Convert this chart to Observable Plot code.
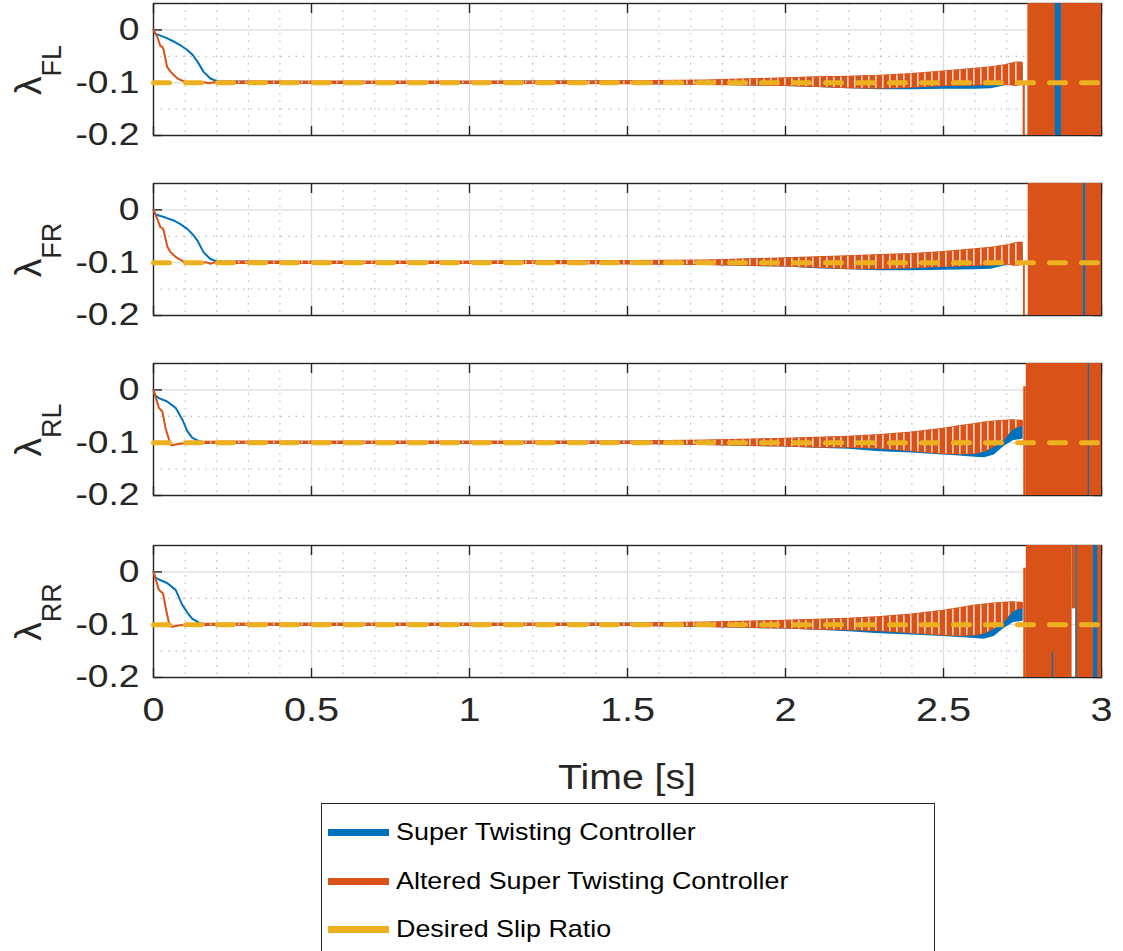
<!DOCTYPE html>
<html><head><meta charset="utf-8">
<script src="https://cdn.jsdelivr.net/npm/d3@7"></script>
<script src="https://cdn.jsdelivr.net/npm/@observablehq/plot@0.6"></script>
<style>
body{margin:0;background:#fff;overflow:hidden;}
#chart{position:relative;width:1123px;height:951px;font-family:"Liberation Sans",Arial,sans-serif;overflow:hidden;}
.panel{position:absolute;left:0;}
#legend{position:absolute;left:321px;top:803px;width:614px;height:160px;border:1.3px solid #262626;background:#fff;box-sizing:border-box;}
.entry{position:absolute;left:6px;height:30px;display:flex;align-items:center;}
.swatch{width:61px;height:7px;margin-right:7px;flex:none;}
.lab{font-size:24px;color:#000;transform:scaleX(1.12);transform-origin:left center;white-space:nowrap;}
</style></head><body><div id="chart"></div><script>
// ---------- axes / labels ----------
const xTicks = [0, 0.5, 1, 1.5, 2, 2.5, 3];
const xTickLabels = ["0", "0.5", "1", "1.5", "2", "2.5", "3"];
const xMinor = [0.1,0.2,0.3,0.4,0.6,0.7,0.8,0.9,1.1,1.2,1.3,1.4,1.6,1.7,1.8,1.9,2.1,2.2,2.3,2.4,2.6,2.7,2.8,2.9];
const yTicks = [-0.2, -0.1, 0];
const yTickLabels = ["-0.2", "-0.1", "0"];
const yMinor = [-0.15, -0.05];
const wheels = ["FL", "FR", "RL", "RR"];
const seriesNames = ["Super Twisting Controller", "Altered Super Twisting Controller", "Desired Slip Ratio"];
const seriesColors = ["#0072BD", "#D95319", "#EDB120"];
const xLabel = "Time [s]";

// ---------- desired slip ratio ----------
const desiredT = [0, 3];
const desiredSlip = [-0.1, -0.1];

// ---------- start-up transients (time, slip) ----------
const stT_FL = [0, 0.005, 0.016, 0.04, 0.064, 0.085, 0.107, 0.125, 0.139, 0.158, 0.18, 0.2, 0.21];
const stV_FL = [0, -0.007, -0.0095, -0.015, -0.022, -0.029, -0.038, -0.048, -0.060, -0.079, -0.092, -0.097, -0.099];
const astT_FL = [0, 0.012, 0.022, 0.028, 0.032, 0.043, 0.054, 0.065, 0.076, 0.086, 0.1, 0.115, 0.13, 0.145, 0.16, 0.175, 0.19, 0.205];
const astV_FL = [0, -0.013, -0.031, -0.032, -0.038, -0.070, -0.079, -0.086, -0.092, -0.095, -0.098, -0.101, -0.099, -0.102, -0.099, -0.101, -0.099, -0.1];

const stT_FR = [0, 0.005, 0.017, 0.04, 0.064, 0.085, 0.107, 0.125, 0.139, 0.158, 0.18, 0.2, 0.21];
const stV_FR = [0, -0.008, -0.0107, -0.015, -0.020, -0.027, -0.036, -0.047, -0.058, -0.080, -0.093, -0.0975, -0.099];
const astT_FR = [0, 0.012, 0.022, 0.028, 0.032, 0.044, 0.054, 0.07, 0.092, 0.105, 0.12, 0.135, 0.15, 0.165, 0.18, 0.195, 0.205];
const astV_FR = [0, -0.017, -0.033, -0.034, -0.039, -0.070, -0.080, -0.089, -0.097, -0.1, -0.102, -0.099, -0.101, -0.099, -0.102, -0.099, -0.1];

const stT_RL = [0, 0.005, 0.017, 0.043, 0.07, 0.091, 0.107, 0.123, 0.144, 0.16, 0.175];
const stV_RL = [0, -0.01, -0.0156, -0.022, -0.034, -0.056, -0.078, -0.091, -0.097, -0.099, -0.1];
const astT_RL = [0, 0.017, 0.028, 0.038, 0.049, 0.056, 0.076, 0.107, 0.13, 0.15, 0.17];
const astV_RL = [0, -0.034, -0.041, -0.072, -0.094, -0.105, -0.103, -0.1, -0.101, -0.099, -0.1];

const stT_RR = [0, 0.005, 0.017, 0.043, 0.07, 0.091, 0.107, 0.123, 0.144, 0.16, 0.175];
const stV_RR = [0, -0.01, -0.0144, -0.021, -0.034, -0.0625, -0.077, -0.089, -0.096, -0.099, -0.1];
const astT_RR = [0, 0.017, 0.030, 0.040, 0.051, 0.058, 0.085, 0.107, 0.13, 0.15, 0.17];
const astV_RR = [0, -0.034, -0.041, -0.072, -0.102, -0.104, -0.101, -0.1, -0.101, -0.099, -0.1];

// ---------- chattering envelopes (time, upper, lower) ----------
const envT_FL = [0.2, 0.5, 1.0, 1.5, 1.75, 2.0, 2.1, 2.2, 2.3, 2.4, 2.5, 2.6, 2.65, 2.7, 2.73, 2.75];
const stHi_FL = [-0.098, -0.099, -0.099, -0.098, -0.097, -0.094, -0.092, -0.090, -0.088, -0.086, -0.082, -0.078, -0.076, -0.072, -0.068, -0.070];
const stLo_FL = [-0.101, -0.101, -0.101, -0.102, -0.103, -0.106, -0.108, -0.110, -0.112, -0.112, -0.111, -0.111, -0.110, -0.104, -0.098, -0.095];
const astHi_FL = [-0.098, -0.098, -0.098, -0.0975, -0.096, -0.092, -0.090, -0.089, -0.087, -0.084, -0.079, -0.074, -0.071, -0.067, -0.062, -0.062];
const astLo_FL = [-0.102, -0.102, -0.102, -0.1025, -0.104, -0.106, -0.108, -0.110, -0.111, -0.109, -0.106, -0.105, -0.104, -0.104, -0.106, -0.104];

const envT_FR = [0.2, 0.5, 1.0, 1.5, 1.75, 2.0, 2.1, 2.2, 2.3, 2.4, 2.5, 2.6, 2.65, 2.7, 2.73, 2.75];
const stHi_FR = [-0.098, -0.099, -0.099, -0.098, -0.097, -0.093, -0.091, -0.089, -0.087, -0.085, -0.082, -0.078, -0.075, -0.070, -0.066, -0.068];
const stLo_FR = [-0.101, -0.101, -0.101, -0.102, -0.104, -0.107, -0.110, -0.112, -0.114, -0.114, -0.113, -0.112, -0.111, -0.104, -0.096, -0.095];
const astHi_FR = [-0.098, -0.098, -0.098, -0.097, -0.096, -0.092, -0.090, -0.088, -0.086, -0.084, -0.080, -0.075, -0.072, -0.068, -0.063, -0.062];
const astLo_FR = [-0.102, -0.102, -0.102, -0.103, -0.104, -0.107, -0.109, -0.112, -0.112, -0.110, -0.108, -0.106, -0.105, -0.103, -0.106, -0.104];

const envT_RL = [0.15, 0.5, 1.0, 1.5, 1.75, 2.0, 2.1, 2.2, 2.3, 2.4, 2.5, 2.55, 2.6, 2.63, 2.66, 2.69, 2.72, 2.75];
const stHi_RL = [-0.099, -0.099, -0.099, -0.0985, -0.097, -0.094, -0.092, -0.090, -0.087, -0.084, -0.078, -0.072, -0.067, -0.064, -0.062, -0.060, -0.059, -0.060];
const stLo_RL = [-0.101, -0.101, -0.101, -0.1015, -0.104, -0.107, -0.109, -0.111, -0.116, -0.118, -0.122, -0.124, -0.126, -0.127, -0.122, -0.106, -0.095, -0.092];
const astHi_RL = [-0.0985, -0.098, -0.098, -0.098, -0.096, -0.093, -0.091, -0.089, -0.086, -0.081, -0.074, -0.069, -0.065, -0.062, -0.060, -0.059, -0.058, -0.059];
const astLo_RL = [-0.1015, -0.102, -0.102, -0.102, -0.104, -0.107, -0.109, -0.109, -0.111, -0.116, -0.121, -0.122, -0.121, -0.117, -0.108, -0.096, -0.075, -0.068];

const envT_RR = [0.15, 0.5, 1.0, 1.5, 1.75, 2.0, 2.1, 2.2, 2.3, 2.4, 2.5, 2.55, 2.6, 2.63, 2.66, 2.69, 2.72, 2.75];
const stHi_RR = [-0.099, -0.099, -0.099, -0.0985, -0.097, -0.094, -0.092, -0.090, -0.087, -0.084, -0.078, -0.072, -0.067, -0.064, -0.062, -0.060, -0.059, -0.060];
const stLo_RR = [-0.101, -0.101, -0.101, -0.1015, -0.104, -0.107, -0.109, -0.112, -0.116, -0.118, -0.121, -0.123, -0.125, -0.126, -0.121, -0.106, -0.095, -0.092];
const astHi_RR = [-0.0985, -0.098, -0.098, -0.098, -0.096, -0.093, -0.091, -0.089, -0.086, -0.081, -0.074, -0.069, -0.064, -0.062, -0.060, -0.059, -0.058, -0.059];
const astLo_RR = [-0.1015, -0.102, -0.102, -0.102, -0.104, -0.107, -0.109, -0.110, -0.112, -0.116, -0.120, -0.121, -0.120, -0.117, -0.108, -0.096, -0.075, -0.068];

// ---------- divergence after ~2.75 s: [t start, t end, slip low, slip high, series] ----------
const burst_FL = [[2.752, 2.759, -0.2, -0.1, "AST"], [2.767, 3, -0.2, 0.05, "AST"], [2.854, 2.873, -0.2, 0.05, "ST"]];
const burst_FR = [[2.753, 2.759, -0.2, -0.1, "AST"], [2.768, 3, -0.2, 0.05, "AST"], [2.943, 2.950, -0.2, 0.05, "ST"]];
const burst_RL = [[2.754, 2.762, -0.2, 0.006, "AST"], [2.762, 3, -0.2, 0.05, "AST"], [2.958, 2.962, -0.2, 0.05, "ST"]];
const burst_RR = [[2.754, 2.762, -0.2, 0.007, "AST"], [2.762, 2.907, -0.2, 0.05, "AST"], [2.907, 2.919, -0.07, 0.05, "AST"], [2.919, 3, -0.2, 0.05, "AST"],
                  [2.844, 2.848, -0.2, -0.152, "ST"], [2.919, 2.923, -0.2, 0.05, "ST"], [2.975, 2.988, -0.2, 0.05, "ST"]];

const panelData = [
  {st: [stT_FL, stV_FL], ast: [astT_FL, astV_FL], env: [envT_FL, stHi_FL, stLo_FL, astHi_FL, astLo_FL], burst: burst_FL},
  {st: [stT_FR, stV_FR], ast: [astT_FR, astV_FR], env: [envT_FR, stHi_FR, stLo_FR, astHi_FR, astLo_FR], burst: burst_FR},
  {st: [stT_RL, stV_RL], ast: [astT_RL, astV_RL], env: [envT_RL, stHi_RL, stLo_RL, astHi_RL, astLo_RL], burst: burst_RL},
  {st: [stT_RR, stV_RR], ast: [astT_RR, astV_RR], env: [envT_RR, stHi_RR, stLo_RR, astHi_RR, astLo_RR], burst: burst_RR}
];

// ---------- layout ----------
const panelTops = [3, 183, 363, 545];
const plotH = 132;
const FONT = "'Liberation Sans', Arial, sans-serif";
const AX = "#262626";
const STRETCH = 1.2;

function stretchTexts(svg, s) {
  svg.querySelectorAll("text").forEach(t => {
    const tr = t.getAttribute("transform") || "";
    const x = +t.getAttribute("x") || 0;
    t.setAttribute("transform", `${tr} translate(${x},0) scale(${s},1) translate(${-x},0)`);
  });
}

const chart = document.getElementById("chart");
const rows = (t, v) => t.map((x, k) => ({t: x, v: v[k]}));

panelData.forEach((d, i) => {
  const last = i === 3;
  const mt = 20, mb = last ? 140 : 24;
  const [eT, sHi, sLo, aHi, aLo] = d.env;
  const stBand = eT.map((t, k) => ({t, hi: sHi[k], lo: sLo[k]}));
  const astBand = eT.map((t, k) => ({t, hi: aHi[k], lo: aLo[k]}));
  const burst = d.burst.map(([x1, x2, lo, hi, s]) => ({x1, x2, lo, hi, s}));
  const desired = rows(desiredT, desiredSlip);
  const gapPat = `chatterGap${i}`;

  const marks = [
    Plot.ruleX(xMinor, {stroke: "#b0b0b0", strokeWidth: 1, strokeDasharray: "1.5,6"}),
    Plot.ruleY(yMinor, {stroke: "#b0b0b0", strokeWidth: 1, strokeDasharray: "1.5,6"}),
    Plot.ruleX(xTicks, {stroke: "#dcdcdc", strokeWidth: 1.3}),
    Plot.ruleY(yTicks, {stroke: "#dcdcdc", strokeWidth: 1.3}),
    Plot.frame({stroke: AX, strokeWidth: 1.4}),
    Plot.axisX({anchor: "bottom", ticks: xTicks, tickSize: -9, tickFormat: () => "", stroke: AX, strokeWidth: 1.4}),
    Plot.axisX({anchor: "top", ticks: xTicks, tickSize: -9, tickFormat: () => "", stroke: AX, strokeWidth: 1.4}),
    Plot.axisY({anchor: "left", ticks: yTicks, tickSize: -9, tickFormat: () => "", stroke: AX, strokeWidth: 1.4}),
    Plot.axisY({anchor: "right", ticks: yTicks, tickSize: -9, tickFormat: () => "", stroke: AX, strokeWidth: 1.4}),
    Plot.axisY({anchor: "left", ticks: yTicks, tickSize: 0, tickPadding: 14, fontSize: 31, fill: AX,
                tickFormat: v => yTickLabels[yTicks.indexOf(v)]}),
    // Super Twisting (blue)
    Plot.areaY(stBand, {x: "t", y1: "lo", y2: "hi", fill: seriesColors[0], stroke: seriesColors[0], strokeWidth: 1.4}),
    Plot.line(rows(...d.st), {x: "t", y: "v", stroke: seriesColors[0], strokeWidth: 2}),
    // Altered Super Twisting (orange)
    Plot.areaY(astBand, {x: "t", y1: "lo", y2: "hi", fill: seriesColors[1], stroke: seriesColors[1], strokeWidth: 1.4}),
    Plot.line(rows(...d.ast), {x: "t", y: "v", stroke: seriesColors[1], strokeWidth: 2}),
    // thin gaps between chattering strokes
    Plot.areaY(astBand, {x: "t", y1: "lo", y2: "hi", fill: `url(#${gapPat})`}),
    Plot.rect(burst.filter(b => b.s === "AST"), {x1: "x1", x2: "x2", y1: "lo", y2: "hi", fill: seriesColors[1]}),
    Plot.rect(burst.filter(b => b.s === "ST"), {x1: "x1", x2: "x2", y1: "lo", y2: "hi", fill: seriesColors[0]}),
    // desired slip ratio
    Plot.line(desired, {x: "t", y: "v", stroke: seriesColors[2], strokeWidth: 5, strokeDasharray: "16,16"})
  ];
  if (last) {
    marks.push(Plot.axisX({anchor: "bottom", ticks: xTicks, tickSize: 0, tickPadding: 20, fontSize: 33, fill: AX,
                           tickFormat: v => xTickLabels[xTicks.indexOf(v)]}));
  }

  const svg = Plot.plot({
    width: 1123, height: mt + plotH + mb,
    marginLeft: 153, marginRight: 22, marginTop: mt, marginBottom: mb,
    x: {domain: [0, 3], label: null},
    y: {domain: [-0.2, 0.05], label: null},
    style: {fontFamily: FONT, background: "transparent", overflow: "visible"},
    marks
  });
  stretchTexts(svg, STRETCH);

  const s = d3.select(svg);
  const defs = s.insert("defs", ":first-child");
  const p = defs.append("pattern").attr("id", gapPat).attr("patternUnits", "userSpaceOnUse")
    .attr("width", 7).attr("height", 10);
  p.append("rect").attr("x", 0).attr("y", 0).attr("width", 1.6).attr("height", 10).attr("fill", "#ffffff").attr("fill-opacity", 0.75);

  const lab = s.append("text")
    .attr("transform", `translate(41,${mt + plotH / 2 + 1}) rotate(-90)`)
    .attr("text-anchor", "middle").attr("fill", AX).style("font-family", FONT);
  lab.append("tspan").attr("font-size", 37).text("λ");
  lab.append("tspan").attr("font-size", 27).attr("dy", 20).text(wheels[i]);

  if (last) {
    s.append("text").attr("x", 627).attr("y", mt + plotH + 112)
      .attr("text-anchor", "middle").attr("font-size", 35).attr("fill", AX)
      .attr("transform", `translate(627,0) scale(1.12,1) translate(-627,0)`)
      .style("font-family", FONT).text(xLabel);
  }

  svg.classList.add("panel");
  svg.style.position = "absolute";
  svg.style.left = "0px";
  svg.style.top = (panelTops[i] - mt) + "px";
  chart.appendChild(svg);
});

// ---------- legend ----------
const legend = document.createElement("div");
legend.id = "legend";
const entryY = [13, 62, 110];
seriesNames.forEach((name, k) => {
  const e = document.createElement("div");
  e.className = "entry";
  e.style.top = entryY[k] + "px";
  const sw = document.createElement("div");
  sw.className = "swatch";
  sw.style.background = seriesColors[k];
  const t = document.createElement("span");
  t.className = "lab";
  t.textContent = name;
  e.appendChild(sw); e.appendChild(t);
  legend.appendChild(e);
});
chart.appendChild(legend);
</script></body></html>
